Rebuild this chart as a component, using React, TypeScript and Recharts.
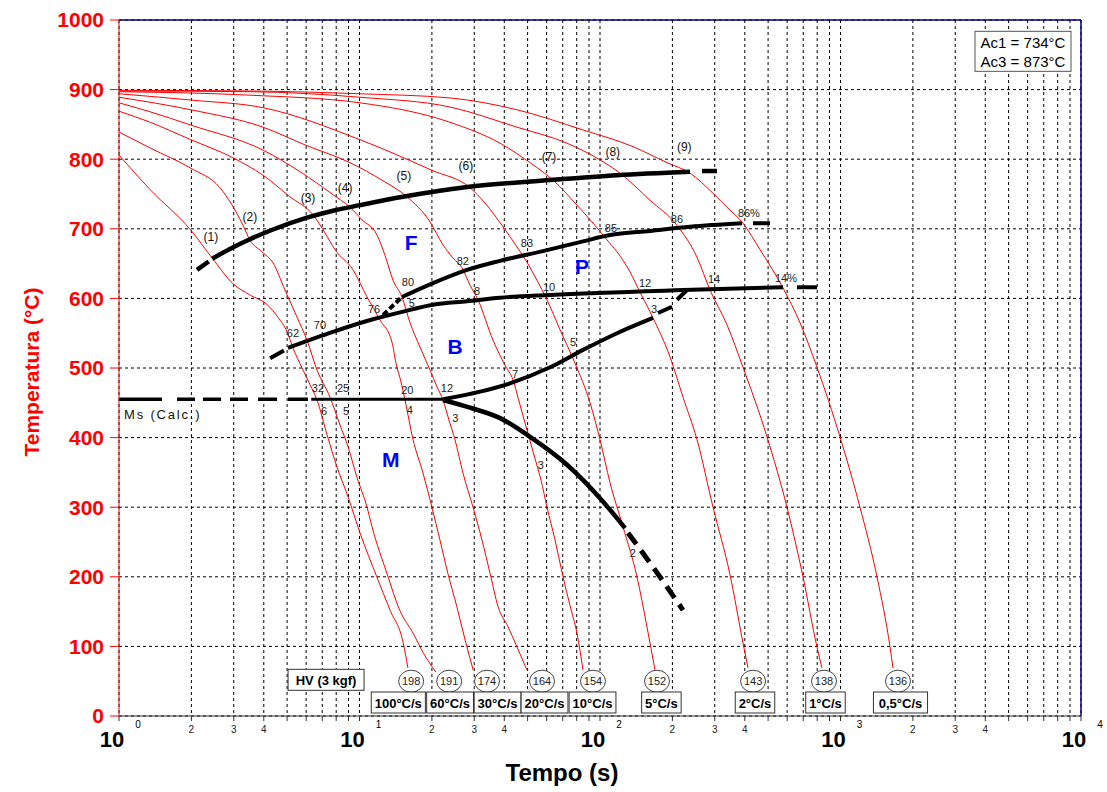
import React from 'react'
import {
  ComposedChart, Line, XAxis, YAxis, CartesianGrid, ReferenceLine, ReferenceDot, Label,
} from 'recharts'

type Pt = [number, number] // [tempo (s), temperatura (°C)]

// curvas de resfriamento (1)..(9)
const cool100: Pt[] = [[1, 806], [1.35, 756], [1.99, 698], [2.44, 658], [2.98, 621], [3.5, 605], [4.13, 591], [4.58, 573], [5.0, 552], [5.29, 529], [5.77, 500], [6.23, 476], [6.66, 454], [7.33, 404], [8.06, 358], [8.96, 315], [10.05, 263], [11.8, 200], [13.4, 152], [15.2, 105], [15.9, 69]]
const cool60: Pt[] = [[1, 839], [1.35, 816], [1.99, 787], [2.63, 759], [3.28, 705], [3.5, 684], [3.93, 667], [4.37, 651], [4.9, 612], [5.5, 573], [6.05, 540], [6.66, 497], [7.54, 458], [8.3, 418], [8.96, 387], [9.76, 343], [10.75, 300], [11.27, 272], [13.0, 205], [14.7, 152], [16.7, 119], [18.4, 91], [20.8, 63]]
const cool30: Pt[] = [[1, 869], [1.35, 853], [1.99, 828], [2.98, 802], [3.97, 777], [5.14, 746], [6.41, 720], [7.19, 694], [7.91, 670], [9.4, 641], [10.75, 602], [12.17, 569], [13.65, 537], [14.18, 507], [14.88, 480], [15.46, 454], [16.7, 397], [18.37, 349], [20.0, 300], [21.6, 253], [23.3, 205], [25.4, 157], [27.5, 109], [29.7, 66]]
const cool20: Pt[] = [[1, 881], [1.35, 868], [1.99, 849], [3.97, 813], [5.66, 782], [7.76, 749], [9.13, 731], [10.24, 713], [11.83, 691], [12.76, 662], [13.79, 626], [15.02, 602], [16.22, 565], [17.85, 530], [19.64, 497], [21.0, 473], [22.24, 454], [23.56, 425], [24.95, 397], [26.94, 349], [29.65, 300], [32.3, 253], [34.9, 205], [37.7, 157], [41.5, 128], [45.2, 99], [49.7, 66]]
const cool10: Pt[] = [[1, 889], [1.99, 871], [3.97, 846], [5.99, 820], [9.13, 795], [12.52, 769], [15.76, 746], [19.64, 710], [22.24, 677], [24.48, 658], [26.68, 644], [28.81, 619], [31.09, 598], [35.9, 540], [40.27, 504], [43.47, 483], [46.49, 447], [49.7, 411], [53.15, 375], [56.84, 339], [60.2, 300], [65.0, 253], [70.2, 200], [75.0, 159], [80.2, 119], [85.0, 66]]
const cool5: Pt[] = [[1, 894], [1.99, 885], [3.97, 874], [10.05, 828], [20.02, 784], [28.81, 759], [33.25, 737], [39.51, 703], [45.17, 674], [49.7, 652], [54.7, 626], [60.2, 598], [68.2, 555], [78.7, 507], [90.9, 450], [100, 397], [110.1, 335], [124.6, 272], [142.5, 200], [156.8, 128], [169.3, 66]]
const cool2: Pt[] = [[1, 897], [3.5, 892], [10.05, 881], [23.79, 853], [38.39, 823], [52.65, 792], [63.77, 770], [80.2, 734], [95.3, 705], [106.9, 684], [117.7, 667], [133.3, 638], [146.7, 609], [166.1, 572], [195.5, 516], [221.4, 458], [253.2, 397], [295.1, 300], [347.2, 203], [393.2, 105], [412.5, 69]]
const cool1: Pt[] = [[1, 898], [3.5, 897], [10.05, 889], [23.79, 875], [45.17, 846], [72.9, 823], [100, 799], [121.1, 780], [161.4, 741], [209, 705], [253.2, 659], [286.7, 612], [337.4, 562], [393.2, 501], [494.8, 401], [599.1, 300], [698.4, 200], [798.6, 99], [837.6, 69]]
const cool05: Pt[] = [[1, 899], [3.5, 898], [10.05, 894], [23.79, 888], [45.17, 871], [85, 842], [137.2, 818], [189.9, 795], [236.7, 780], [295.1, 751], [337.4, 731], [393.2, 708], [462.8, 670], [576.7, 615], [678.6, 565], [798.6, 501], [995.2, 401], [1205, 300], [1418, 200], [1607, 99], [1653, 69]]

const coolingCurves = [cool100, cool60, cool30, cool20, cool10, cool5, cool2, cool1, cool05]
const rateLabels = ['100°C/s', '60°C/s', '30°C/s', '20°C/s', '10°C/s', '5°C/s', '2°C/s', '1°C/s', '0,5°C/s']
const hardness = [198, 191, 174, 164, 154, 152, 143, 138, 136]
const hardnessAt = [16.4, 23.6, 33.9, 57.4, 93.5, 172.6, 433, 854, 1734]
const rateAt = [14.5, 23.8, 37.5, 58.8, 93.1, 180, 441, 866, 1776]

// linhas de transformação
const ferriteStart: Pt[] = [[2.44, 657], [2.89, 671], [3.5, 685], [4.37, 699], [6.05, 716], [7.76, 726], [10.05, 734], [15.17, 746], [28.0, 760], [62.0, 770], [117.7, 777], [236.7, 782]]
const ferriteLead: Pt[] = [[2.11, 641], [2.36, 653]]
const ferriteTail: Pt[] = [[265.6, 783], [306.6, 783]]
const pearliteStart: Pt[] = [[15.02, 602], [20.21, 622], [28.0, 641], [38.4, 654], [57.9, 668], [85, 682], [110.1, 691], [161.4, 697], [236.7, 703], [389.5, 708]]
const pearliteLead: Pt[] = [[12.52, 576], [15.02, 602]]
const pearliteTail: Pt[] = [[432.8, 708], [509.2, 708]]
const bainiteStart: Pt[] = [[5.04, 529], [7.76, 552], [11.38, 570], [14.74, 580], [20.21, 591], [28.0, 596], [38.4, 601], [62.0, 605], [221.4, 612], [576.7, 616]]
const bainiteLead: Pt[] = [[4.25, 514], [4.85, 525]]
const bainiteTail: Pt[] = [[659.3, 616], [798.6, 616]]
const msLead: Pt[] = [[1, 455], [6.3, 455]]
const msLine: Pt[] = [[6.3, 455], [22.24, 455]]
const bainiteEnd: Pt[] = [[22.24, 455], [31.7, 466], [42.2, 478], [62.0, 501], [85, 526], [117.7, 550], [166.1, 572]]
const bainiteEndTailA: Pt[] = [[174.2, 579], [199.3, 588]]
const bainiteEndTailB: Pt[] = [[209, 598], [230, 612]]
const martensiteEnd: Pt[] = [[22.24, 454], [28.8, 443], [38.4, 428], [51.2, 401], [72.9, 361], [100, 313], [127.1, 270]]
const martensiteTail: Pt[] = [[130.8, 263], [169.3, 210], [221.4, 152]]

// textos no gráfico [texto, tempo, temperatura]
const runLabels: [string, number, number][] = [['(1)', 2.41, 688], ['(2)', 3.5, 717], ['(3)', 6.11, 744], ['(4)', 8.71, 759], ['(5)', 15.3, 776], ['(6)', 27.7, 790], ['(7)', 61.4, 803], ['(8)', 113, 810], ['(9)', 224, 818]]
const phaseLabels: [string, number, number][] = [['F', 16.4, 680], ['P', 84.2, 645], ['B', 25, 530], ['M', 13.5, 368]]
const pctLabels: [string, number, number][] = [
  ['62', 5.29, 550], ['70', 6.85, 562], ['76', 11.5, 585], ['80', 15.9, 624], ['82', 26.9, 654], ['83', 49.7, 680], ['85', 111, 701], ['86', 209, 714], ['86%', 416, 723],
  ['5', 16.5, 593], ['8', 30.8, 611], ['10', 61.4, 616], ['12', 154, 622], ['14', 298, 628], ['14%', 593, 629],
  ['32', 6.72, 471], ['25', 8.54, 471], ['20', 15.8, 468], ['12', 23.1, 471], ['6', 7.12, 438], ['5', 8.79, 438], ['4', 16.2, 440], ['3', 25, 428],
  ['7', 44.3, 491], ['5', 77.2, 537], ['3', 168, 585], ['3', 56.8, 361], ['2', 137, 234],
]

const timeTicks = [1, 2, 3, 4, 5, 6, 7, 8, 9, 10, 20, 30, 40, 50, 60, 70, 80, 90, 100, 200, 300, 400, 500, 600, 700, 800, 900, 1000, 2000, 3000, 4000, 5000, 6000, 7000, 8000, 9000, 10000]
const tempTicks = [0, 100, 200, 300, 400, 500, 600, 700, 800, 900, 1000]

const font = '"Liberation Sans", Arial, sans-serif'
const rows = (p: Pt[]) => p.map(([t, T]) => ({ t, T }))

function TimeTick({ x, y, payload }: any) {
  const v = payload.value as number
  const exp = Math.round(Math.log10(v))
  if (Math.abs(v - Math.pow(10, exp)) < 1e-9) {
    return (
      <g fontFamily={font}>
        <text x={x - 7} y={y + 24} textAnchor="middle" fontSize={22} fontWeight="bold" fill="#000">10</text>
        <text x={x + 19} y={y + 5} textAnchor="middle" fontSize={10} fill="#000">{exp}</text>
      </g>
    )
  }
  const lead = Math.round(v / Math.pow(10, Math.floor(Math.log10(v) + 1e-9)))
  if (lead > 4) return <g />
  return <text x={x} y={y + 10} textAnchor="middle" fontSize={10} fill="#222" fontFamily={font}>{lead}</text>
}

const textShape = (text: string, size: number, color: string, bold = false, anchor = 'middle', spacing = 0) => (p: any) => (
  <text x={p.cx} y={p.cy} dy="0.35em" textAnchor={anchor} fontSize={size} fill={color} letterSpacing={spacing}
    fontWeight={bold ? 'bold' : 'normal'} fontFamily={font}>{text}</text>
)

const hvShape = (value: number) => (p: any) => (
  <g fontFamily={font}>
    <ellipse cx={p.cx} cy={p.cy} rx={12.5} ry={11} fill="#fff" stroke="#444" />
    <text x={p.cx} y={p.cy} dy="0.35em" textAnchor="middle" fontSize={11} fill="#222">{value}</text>
  </g>
)

const boxShape = (text: string) => (p: any) => {
  const w = text.length * 7.3 + 3
  const h = 21
  return (
    <g fontFamily={font}>
      <rect x={p.cx - w / 2} y={p.cy - h / 2} width={w} height={h} fill="#fff" stroke="#333" />
      <text x={p.cx} y={p.cy + 1} dy="0.35em" textAnchor="middle" fontSize={13} fontWeight="bold" fill="#000">{text}</text>
    </g>
  )
}

const acBox = (lines: string[]) => (p: any) => {
  const w = 96
  const h = 40
  return (
    <g fontFamily={font}>
      <rect x={p.cx - w / 2} y={p.cy - h / 2} width={w} height={h} fill="#fff" stroke="#555" />
      {lines.map((l, i) => (
        <text key={i} x={p.cx} y={p.cy - 9 + i * 19} dy="0.35em" textAnchor="middle" fontSize={15} fill="#000">{l}</text>
      ))}
    </g>
  )
}

export default function App() {
  const black = (data: Pt[], width = 4, dash?: string) => (
    <Line data={rows(data)} dataKey="T" stroke="#000" strokeWidth={width} strokeDasharray={dash}
      dot={false} activeDot={false} isAnimationActive={false} type="monotone" />
  )
  return (
    <div style={{ position: 'absolute', left: 0, top: 0, background: '#fff' }}>
      <ComposedChart width={1107} height={792} margin={{ top: 20, right: 26, bottom: 0, left: 0 }}>
        <CartesianGrid stroke="#000" strokeDasharray="3 3" strokeWidth={1} />
        <XAxis dataKey="t" type="number" scale="log" domain={[1, 10000]} allowDataOverflow
          ticks={timeTicks} interval={0} height={76} tickSize={5} tickMargin={2}
          stroke="#333" tick={<TimeTick />}>
          <Label content={(p: any) => {
            const vb = p.viewBox
            return <text x={vb.x + vb.width / 2 - 38} y={vb.y + 57} dy="0.35em" textAnchor="middle"
              fontSize={24} fontWeight="bold" fill="#000" fontFamily={font}>Tempo (s)</text>
          }} />
        </XAxis>
        <YAxis type="number" domain={[0, 1000]} ticks={tempTicks} interval={0} width={119}
          stroke="#ff0000" tickSize={9} tickMargin={6}
          tick={{ fill: '#ff0000', fontSize: 21, fontWeight: 'bold', fontFamily: font }}>
          <Label content={(p: any) => {
            const vb = p.viewBox
            const cx = vb.x + 32
            const cy = vb.y + vb.height / 2 + 4
            return <text x={cx} y={cy} transform={`rotate(-90 ${cx} ${cy})`} dy="0.35em" textAnchor="middle"
              fontSize={21} fontWeight="bold" fill="#ff0000" fontFamily={font}>Temperatura (°C)</text>
          }} />
        </YAxis>
        <ReferenceLine y={1000} stroke="#000080" strokeWidth={1.5} />
        <ReferenceLine x={10000} stroke="#000080" strokeWidth={1.5} />

        {coolingCurves.map((c, i) => (
          <Line key={`c${i}`} data={rows(c)} dataKey="T" stroke="#ff0000" strokeWidth={1}
            dot={false} activeDot={false} isAnimationActive={false} type="monotone" />
        ))}

        {black(ferriteStart, 4.5)}
        {black(ferriteLead, 4.5)}
        {black(ferriteTail, 4.5)}
        {black(pearliteStart, 4)}
        {black(pearliteLead, 4, '6 3')}
        {black(pearliteTail, 4)}
        {black(bainiteStart, 4)}
        {black(bainiteLead, 4)}
        {black(bainiteTail, 4)}
        {black(msLead, 3.5, '43 15 18 8 18 9 18 10 19 11 20 7 300')}
        {black(msLine, 3)}
        {black(bainiteEnd, 4)}
        {black(bainiteEndTailA, 4)}
        {black(bainiteEndTailB, 4)}
        {black(martensiteEnd, 4.5)}
        {black(martensiteTail, 5, '14 8')}

        {runLabels.map(([s, t, T], i) => (
          <ReferenceDot key={`r${i}`} x={t} y={T} r={1} shape={textShape(s, 12, '#111')} />
        ))}
        {phaseLabels.map(([s, t, T], i) => (
          <ReferenceDot key={`p${i}`} x={t} y={T} r={1} shape={textShape(s, 21, '#0000ff', true)} />
        ))}
        {pctLabels.map(([s, t, T], i) => (
          <ReferenceDot key={`q${i}`} x={t} y={T} r={1} shape={textShape(s, 11, '#222')} />
        ))}
        <ReferenceDot x={1.05} y={433} r={1} shape={textShape('Ms (Calc.)', 13, '#111', false, 'start', 1.8)} />

        {hardness.map((h, i) => (
          <ReferenceDot key={`h${i}`} x={hardnessAt[i]} y={50} r={1} shape={hvShape(h)} />
        ))}
        {rateLabels.map((s, i) => (
          <ReferenceDot key={`b${i}`} x={rateAt[i]} y={19.4} r={1} shape={boxShape(s)} />
        ))}
        <ReferenceDot x={7.26} y={52} r={1} shape={boxShape('HV (3 kgf)')} />
        <ReferenceDot x={5739} y={955} r={1} shape={acBox(['Ac1 = 734°C', 'Ac3 = 873°C'])} />
      </ComposedChart>
    </div>
  )
}
